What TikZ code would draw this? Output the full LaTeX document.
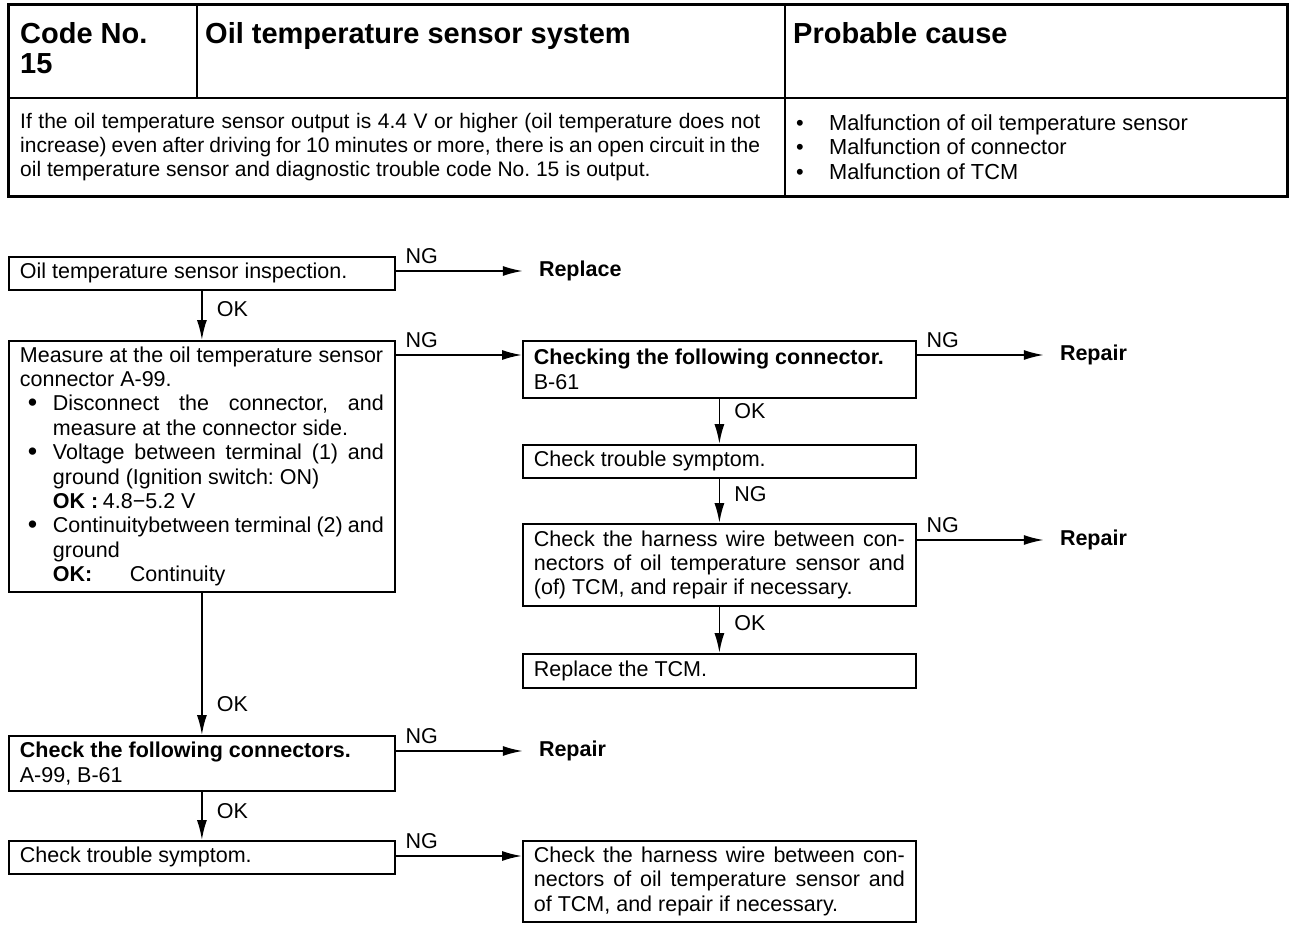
\documentclass[tikz,border=0pt]{standalone}
\usepackage{fontspec}
\usepackage{graphicx}
\setmainfont{Liberation Sans}
\usetikzlibrary{positioning,calc,arrows.meta}
\newcommand{\blt}[1][8pt]{\makebox[33pt][l]{\hspace{#1}\raisebox{-1pt}{\scalebox{1.25}{\textbullet}}}}
\newcommand{\tblt}{\makebox[33pt][l]{\textbullet}}
\newcommand{\indt}{\hspace*{33pt}}
\newcommand{\jline}[2]{\makebox[#1][s]{\spaceskip=0pt\relax#2}}

\begin{document}
\begin{tikzpicture}[x=1pt,y=-1pt,
  every node/.style={font=\fontsize{21.5}{24.4}\selectfont\frenchspacing},
  head/.style={anchor=north west,inner sep=0pt,align=left,font=\fontsize{29}{30}\selectfont\bfseries},
  desc/.style={anchor=west,inner sep=0pt,align=left,font=\fontsize{21}{24}\selectfont\frenchspacing},
  lbox/.style={draw,line width=1.8pt,anchor=north west,align=flush left,inner xsep=11pt,inner ysep=0pt,text width=364pt,minimum width=386pt},
  rbox/.style={lbox,text width=371pt,minimum width=393pt},
  flow/.style={draw,line width=1.8pt,-{Latex[length=20pt,width=10pt]}},
  ngtag/.style={pos=0,anchor=south west,inner xsep=9pt,inner ysep=6pt},
  oktag/.style={anchor=west,inner xsep=14pt,inner ysep=0pt},
  result/.style={inner xsep=16pt,font=\fontsize{21.5}{24.4}\selectfont\bfseries}]
\useasboundingbox (0,0) rectangle (1312,928);

% table at the top
\draw[line width=3pt] (8,5) rectangle (1287,197);
\draw[line width=2pt] (8,98) -- (1287,98) (197,5) -- (197,98) (785,5) -- (785,197);
\node[head] (code) at (20,22) {Code No.\\15};
\node[head] (system) at (205,22) {Oil temperature sensor system};
\node[head] (cause) at (793,22) {Probable cause};
\node[desc] (cond) at (20,147) {%
  \jline{740pt}{If the oil temperature sensor output is 4.4 V or higher (oil temperature does not}\\
  \jline{740pt}{increase) even after driving for 10 minutes or more, there is an open circuit in the}\\
  oil temperature sensor and diagnostic trouble code No. 15 is output.};
\node[desc,align=flush left,text width=480pt,font=\fontsize{21.8}{24.4}\selectfont] (causes) at (796,147) {%
  \tblt Malfunction of oil temperature sensor\\
  \tblt Malfunction of connector\\
  \tblt Malfunction of TCM};

% left column
\node[lbox,minimum height=33pt] (inspect) at (8,256) {Oil temperature sensor inspection.};
\node[lbox,minimum height=251pt] (measure) at (8,340) {Measure at the oil temperature sensor\\
  connector A-99.\\
  \blt\jline{331pt}{Disconnect the connector, and}\\
  \indt measure at the connector side.\\
  \blt\jline{331pt}{Voltage between terminal (1) and}\\
  \indt ground (Ignition switch: ON)\\
  \indt\makebox[50pt][l]{\textbf{OK :}}4.8−5.2 V\\
  \blt\jline{331pt}{Continuitybetween terminal (2) and}\\
  \indt ground\\
  \indt\makebox[77pt][l]{\textbf{OK:}}Continuity};
\node[lbox,minimum height=55pt] (conns) at (8,735) {\textbf{Check the following connectors.}\\ A-99, B-61};
\node[lbox,minimum height=33pt] (symptomL) at (8,840) {Check trouble symptom.};

% right column
\node[rbox,minimum height=57pt] (conn) at (522,340) {\textbf{Checking the following connector.}\\ B-61};
\node[rbox,minimum height=33pt] (symptomR) at (522,444) {Check trouble symptom.};
\node[rbox,minimum height=82pt] (harnessR) at (522,523) {%
  \jline{371pt}{Check the harness wire between con-}\\
  \jline{371pt}{nectors of oil temperature sensor and}\\
  (of) TCM, and repair if necessary.};
\node[rbox,minimum height=34pt] (tcm) at (522,653) {Replace the TCM.};
\node[rbox,minimum height=81pt] (harnessL) at (522,840) {%
  \jline{371pt}{Check the harness wire between con-}\\
  \jline{371pt}{nectors of oil temperature sensor and}\\
  of TCM, and repair if necessary.};

% NG branches
\coordinate (ng1) at ($(inspect.north east)+(0,15)$);
\node[result,right=127pt of ng1] (replace) {Replace};
\draw[flow] (ng1) -- node[ngtag] {NG} (replace);
\coordinate (ng2) at ($(measure.north east)+(0,15)$);
\draw[flow] (ng2) -- node[ngtag] {NG} (ng2 -| conn.west);
\coordinate (ng3) at ($(conn.north east)+(0,15)$);
\node[result,right=127pt of ng3] (repair1) {Repair};
\draw[flow] (ng3) -- node[ngtag] {NG} (repair1);
\coordinate (ng4) at ($(harnessR.north east)+(0,17)$);
\node[result,right=127pt of ng4] (repair2) {Repair};
\draw[flow] (ng4) -- node[ngtag] {NG} (repair2);
\coordinate (ng5) at ($(conns.north east)+(0,16)$);
\node[result,right=127pt of ng5] (repair3) {Repair};
\draw[flow] (ng5) -- node[ngtag] {NG} (repair3);
\coordinate (ng6) at ($(symptomL.north east)+(0,16)$);
\draw[flow] (ng6) -- node[ngtag] {NG} (ng6 -| harnessL.west);

% downward steps
\draw[flow] (inspect.south) -- node[oktag,pos=0.37] {OK} (measure.north);
\draw[flow] (measure.south) -- node[oktag,pos=0.78] {OK} (conns.north);
\draw[flow] (conns.south) -- node[oktag,pos=0.4] {OK} (symptomL.north);
\draw[flow] (conn.south) -- node[oktag,pos=0.28] {OK} (symptomR.north);
\draw[flow] (symptomR.south) -- node[oktag,pos=0.35] {NG} (harnessR.north);
\draw[flow] (harnessR.south) -- node[oktag,pos=0.35] {OK} (tcm.north);
\end{tikzpicture}
\end{document}
